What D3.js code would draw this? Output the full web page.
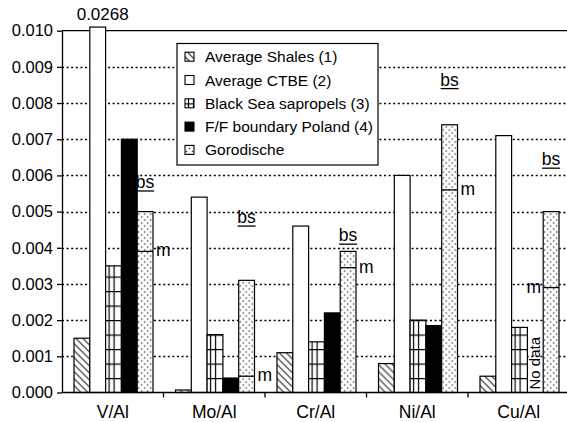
<!DOCTYPE html>
<html>
<head>
<meta charset="utf-8">
<script src="https://cdn.jsdelivr.net/npm/d3@7"></script>
<style>
  body { margin: 0; background: #fff; }
  svg { font-family: "Liberation Sans", Arial, Helvetica, sans-serif; }
</style>
</head>
<body>
<div id="chart"></div>
<script>
// values (ratios)
const categories = ["V/Al", "Mo/Al", "Cr/Al", "Ni/Al", "Cu/Al"];
const seriesNames = ["Average Shales (1)", "Average CTBE (2)", "Black Sea sapropels (3)", "F/F boundary Poland (4)", "Gorodische"];
const shales = [0.0015, 0.00007, 0.0011, 0.0008, 0.00045];
const ctbe = [0.0268, 0.0054, 0.0046, 0.0060, 0.0071];
const blackSea = [0.0035, 0.0016, 0.0014, 0.0020, 0.0018];
const ffPoland = [0.0070, 0.0004, 0.0022, 0.00185, null];
const gorodische = [0.0050, 0.0031, 0.0039, 0.0074, 0.0050];
const gorodischeMean = [0.0039, 0.00045, 0.00345, 0.0056, 0.0029];
const blackShale = [0.00557, 0.0046, 0.0041, 0.0084, 0.0062];
const yTicks = [0, 0.001, 0.002, 0.003, 0.004, 0.005, 0.006, 0.007, 0.008, 0.009, 0.010];

const width = 567, height = 422;
const plotLeft = 62, plotRight = 569.5, plotTop = 30.7, plotBottom = 392.5;
const yMax = 0.010;

const svg = d3.select("#chart").append("svg")
    .attr("width", width)
    .attr("height", height);

// fill patterns
const defs = svg.append("defs");
let hatch = defs.append("pattern").attr("id", "hatch")
    .attr("patternUnits", "userSpaceOnUse").attr("width", 7).attr("height", 7);
hatch.append("rect").attr("width", 7).attr("height", 7).attr("fill", "#fff");
hatch.append("path").attr("d", "M-1,-1 L8,8 M-1,6 L1,8 M6,-1 L8,1")
    .attr("stroke", "#222").attr("stroke-width", 1.1);

let grid = defs.append("pattern").attr("id", "grid")
    .attr("patternUnits", "userSpaceOnUse").attr("width", 16).attr("height", 14.5);
grid.append("rect").attr("width", 16).attr("height", 14.5).attr("fill", "#fff");
grid.append("path").attr("d", "M0,0.6 H16 M3.5,0 V14.5 M8.5,0 V14.5")
    .attr("stroke", "#000").attr("stroke-width", 1.2);

let dots = defs.append("pattern").attr("id", "dots")
    .attr("patternUnits", "userSpaceOnUse").attr("width", 6).attr("height", 6);
dots.append("rect").attr("width", 6).attr("height", 6).attr("fill", "#fff");
dots.append("circle").attr("cx", 1.5).attr("cy", 1.5).attr("r", 0.8).attr("fill", "#222");
dots.append("circle").attr("cx", 4.5).attr("cy", 4.5).attr("r", 0.8).attr("fill", "#222");

const fills = ["url(#hatch)", "#fff", "url(#grid)", "#000", "url(#dots)"];
const allSeries = [shales, ctbe, blackSea, ffPoland, gorodische];

const x = d3.scaleBand().domain(categories).range([plotLeft, plotRight]);
const xs = d3.scaleBand().domain(d3.range(5)).range([12, 91]);
const y = d3.scaleLinear().domain([0, yMax]).range([plotBottom, plotTop]);

// dotted grid lines
svg.append("g")
    .selectAll("line")
    .data(yTicks.slice(1, -1))
    .enter()
    .append("line")
    .attr("x1", plotLeft).attr("x2", width)
    .attr("y1", d => Math.round(y(d)) + 0.5).attr("y2", d => Math.round(y(d)) + 0.5)
    .attr("stroke", "#000")
    .attr("stroke-width", 1.6)
    .attr("stroke-dasharray", "2,2.6");

// top border
svg.append("line")
    .attr("x1", plotLeft).attr("x2", width)
    .attr("y1", y(yMax)).attr("y2", y(yMax))
    .attr("stroke", "#000").attr("stroke-width", 1.3);

// bars (each in its own group so patterns start at the bar)
allSeries.forEach((vals, s) => {
    svg.append("g")
        .selectAll("g")
        .data(categories.map((c, i) => ({ c: c, v: vals[i] })).filter(d => d.v != null))
        .enter()
        .append("g")
        .attr("transform", d => "translate(" + (x(d.c) + xs(s)) + "," + plotBottom + ")")
        .append("rect")
        .attr("x", 0)
        .attr("y", d => y(Math.min(d.v, 0.0101)) - plotBottom)
        .attr("width", xs.bandwidth())
        .attr("height", d => plotBottom - y(Math.min(d.v, 0.0101)))
        .attr("fill", fills[s])
        .attr("stroke", "#000")
        .attr("stroke-width", 1.2);
});

// clipped CTBE value
svg.append("text")
    .attr("x", x(categories[0]) + xs(1) + xs.bandwidth() / 2 + 5)
    .attr("y", 20)
    .attr("text-anchor", "middle")
    .attr("font-size", 17)
    .text(d3.format(".4f")(ctbe[0]));

// "m" marks on Gorodische bars
categories.forEach((c, i) => {
    let x0 = x(c) + xs(4), x1 = x0 + xs.bandwidth();
    let ym = y(gorodischeMean[i]);
    svg.append("line")
        .attr("x1", x0).attr("x2", x1)
        .attr("y1", ym).attr("y2", ym)
        .attr("stroke", "#000").attr("stroke-width", 1.3);
    let onLeft = i == 4;
    svg.append("text")
        .attr("x", onLeft ? x0 - 2 : x1 + 3)
        .attr("y", ym + 5)
        .attr("text-anchor", onLeft ? "end" : "start")
        .attr("font-size", 17.5)
        .text("m");

    // underlined "bs"
    let cx = x0 + xs.bandwidth() / 2;
    let yb = y(blackShale[i]);
    svg.append("text")
        .attr("x", cx)
        .attr("y", yb - 3)
        .attr("text-anchor", "middle")
        .attr("font-size", 17.5)
        .text("bs");
    svg.append("line")
        .attr("x1", cx - 9).attr("x2", cx + 9)
        .attr("y1", yb).attr("y2", yb)
        .attr("stroke", "#000").attr("stroke-width", 1.3);
});

// "No data" for F/F Poland Cu/Al
let nx = x(categories[4]) + xs(3) + xs.bandwidth() / 2;
svg.append("text")
    .attr("transform", "translate(" + (nx + 5) + "," + (plotBottom - 3) + ") rotate(-90)")
    .attr("font-size", 15)
    .text("No data");

// y axis
let yAxis = d3.axisLeft(y).tickValues(yTicks).tickFormat(d3.format(".3f")).tickSize(5).tickSizeOuter(0);
let yG = svg.append("g").attr("transform", "translate(" + plotLeft + ",0)").call(yAxis);
yG.select(".domain").attr("stroke-width", 1.3);
yG.selectAll(".tick line").attr("stroke-width", 1.3);
yG.selectAll("text").attr("font-size", 16.5).attr("font-family", null).attr("fill", "#000").attr("dx", "-1");

// x axis
svg.append("line")
    .attr("x1", plotLeft).attr("x2", width)
    .attr("y1", plotBottom).attr("y2", plotBottom)
    .attr("stroke", "#000").attr("stroke-width", 1.3);
svg.append("g")
    .selectAll("line")
    .data(categories.slice(1))
    .enter()
    .append("line")
    .attr("x1", d => x(d)).attr("x2", d => x(d))
    .attr("y1", plotBottom).attr("y2", plotBottom + 5)
    .attr("stroke", "#000").attr("stroke-width", 1.3);
let xAxis = d3.axisBottom(x).tickSize(0).tickPadding(0);
let xG = svg.append("g").attr("transform", "translate(0," + plotBottom + ")").call(xAxis);
xG.select(".domain").remove();
xG.selectAll("text").attr("font-size", 17.5).attr("font-family", null).attr("fill", "#000")
    .attr("dy", null).attr("y", 417.5 - plotBottom);

// legend
let lg = svg.append("g").attr("transform", "translate(177,43.5)");
lg.append("rect").attr("width", 201).attr("height", 121.5)
    .attr("fill", "#fff").attr("stroke", "#000").attr("stroke-width", 1.2);
seriesNames.forEach((name, s) => {
    let row = lg.append("g").attr("transform", "translate(8," + (13.2 + s * 23.3) + ")");
    row.append("rect").attr("x", 0).attr("y", -4.5).attr("width", 9).attr("height", 9)
        .attr("fill", fills[s]).attr("stroke", "#000").attr("stroke-width", 1.1);
    row.append("text").attr("x", 20).attr("y", 5.5).attr("font-size", 15.5).text(name);
});
</script>
</body>
</html>
